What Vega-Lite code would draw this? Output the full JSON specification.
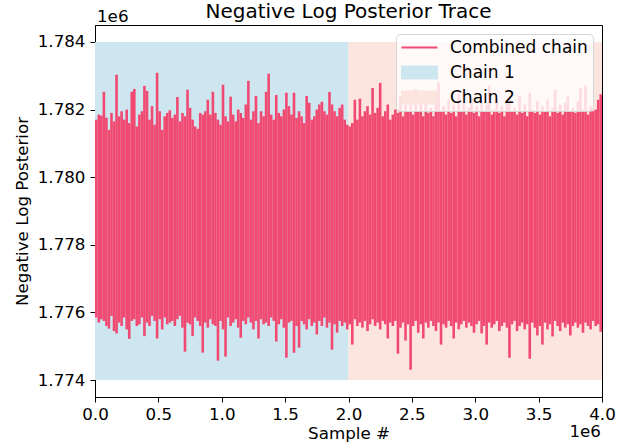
{
  "$schema": "https://vega.github.io/schema/vega-lite/v6.json",
  "width": 507,
  "height": 372,
  "autosize": {"type": "none"},
  "padding": {"left": 95, "top": 25, "right": 31, "bottom": 48},
  "title": {"text": "Negative Log Posterior Trace", "fontSize": 20, "fontWeight": "normal", "font": "DejaVu Sans", "color": "black", "baseline": "alphabetic", "offset": -29, "anchor": "middle", "frame": "group"},
  "config": {
    "font": "DejaVu Sans",
    "view": {"stroke": "black", "strokeWidth": 1},
    "axis": {"labelFont": "DejaVu Sans", "labelFontSize": 16.7, "labelColor": "black", "titleFont": "DejaVu Sans", "titleFontSize": 16.7, "titleFontWeight": "normal", "titleColor": "black", "tickColor": "black", "domainColor": "black", "tickSize": 5, "grid": false, "labelPadding": 4},
    "legend": {"title": null, "orient": "top-right", "offset": 9, "padding": 5, "fillColor": "rgba(255,255,255,0.8)", "strokeColor": "#d5d5d5", "cornerRadius": 4, "labelFont": "DejaVu Sans", "labelFontSize": 17, "labelColor": "black", "symbolSize": 324, "symbolOffset": 10, "rowPadding": 7, "labelOffset": 22}
  },
  "datasets": {
    "regions": [
      {"series": "Chain 1", "x0": 0, "x1": 2000000, "y0": 1774000, "y1": 1784000},
      {"series": "Chain 2", "x0": 2000000, "x1": 4000000, "y0": 1774000, "y1": 1784000}
    ],
    "trace": [
      {"s":10000,"lo":1775850,"hi":1781700},{"s":30000,"lo":1775700,"hi":1781850},{"s":50000,"lo":1775800,"hi":1781820},{"s":70000,"lo":1775750,"hi":1782525},{"s":90000,"lo":1775600,"hi":1781760},
      {"s":110000,"lo":1775520,"hi":1781400},{"s":130000,"lo":1775900,"hi":1781900},{"s":150000,"lo":1775450,"hi":1781650},{"s":170000,"lo":1775380,"hi":1783030},{"s":190000,"lo":1775700,"hi":1781800},
      {"s":210000,"lo":1775600,"hi":1781950},{"s":230000,"lo":1775850,"hi":1781700},{"s":250000,"lo":1775500,"hi":1782000},{"s":270000,"lo":1775220,"hi":1781600},{"s":290000,"lo":1775750,"hi":1782525},
      {"s":310000,"lo":1775800,"hi":1782610},{"s":330000,"lo":1775600,"hi":1781500},{"s":350000,"lo":1775650,"hi":1781850},{"s":370000,"lo":1775850,"hi":1781950},{"s":390000,"lo":1775300,"hi":1782700},
      {"s":410000,"lo":1775700,"hi":1782550},{"s":430000,"lo":1775600,"hi":1781700},{"s":450000,"lo":1775900,"hi":1782100},{"s":470000,"lo":1775750,"hi":1781550},{"s":490000,"lo":1775230,"hi":1783089},
      {"s":510000,"lo":1775800,"hi":1781950},{"s":530000,"lo":1775500,"hi":1781400},{"s":550000,"lo":1775850,"hi":1781800},{"s":570000,"lo":1775650,"hi":1781900},{"s":590000,"lo":1775700,"hi":1781980},
      {"s":610000,"lo":1775750,"hi":1781750},{"s":630000,"lo":1775600,"hi":1781850},{"s":650000,"lo":1775800,"hi":1782370},{"s":670000,"lo":1775900,"hi":1781650},{"s":690000,"lo":1775550,"hi":1781900},
      {"s":710000,"lo":1774841,"hi":1781800},{"s":730000,"lo":1775700,"hi":1782585},{"s":750000,"lo":1775650,"hi":1782050},{"s":770000,"lo":1775300,"hi":1781700},{"s":790000,"lo":1775850,"hi":1781500},
      {"s":810000,"lo":1775750,"hi":1781430},{"s":830000,"lo":1775600,"hi":1781900},{"s":850000,"lo":1774811,"hi":1781850},{"s":870000,"lo":1775700,"hi":1781950},{"s":890000,"lo":1775550,"hi":1782290},
      {"s":910000,"lo":1775800,"hi":1781850},{"s":930000,"lo":1775650,"hi":1782525},{"s":950000,"lo":1775600,"hi":1781900},{"s":970000,"lo":1774574,"hi":1781700},{"s":990000,"lo":1775750,"hi":1781550},
      {"s":1010000,"lo":1775500,"hi":1782733},{"s":1030000,"lo":1774693,"hi":1781800},{"s":1050000,"lo":1775850,"hi":1781650},{"s":1070000,"lo":1775600,"hi":1782380},{"s":1090000,"lo":1775700,"hi":1781850},
      {"s":1110000,"lo":1775800,"hi":1781650},{"s":1130000,"lo":1775550,"hi":1782000},{"s":1150000,"lo":1775250,"hi":1781900},{"s":1170000,"lo":1775750,"hi":1781750},{"s":1190000,"lo":1775650,"hi":1782150},
      {"s":1210000,"lo":1775850,"hi":1782850},{"s":1230000,"lo":1775700,"hi":1781700},{"s":1250000,"lo":1775500,"hi":1781950},{"s":1270000,"lo":1775750,"hi":1782400},{"s":1290000,"lo":1775230,"hi":1781600},
      {"s":1310000,"lo":1775800,"hi":1781950},{"s":1330000,"lo":1775650,"hi":1781800},{"s":1350000,"lo":1775700,"hi":1782525},{"s":1370000,"lo":1775600,"hi":1783060},{"s":1390000,"lo":1775850,"hi":1781850},
      {"s":1410000,"lo":1775750,"hi":1781700},{"s":1430000,"lo":1775140,"hi":1782430},{"s":1450000,"lo":1775650,"hi":1781900},{"s":1470000,"lo":1775800,"hi":1781800},{"s":1490000,"lo":1775550,"hi":1782000},
      {"s":1510000,"lo":1774663,"hi":1782500},{"s":1530000,"lo":1775700,"hi":1782100},{"s":1550000,"lo":1775750,"hi":1781850},{"s":1570000,"lo":1774811,"hi":1782500},{"s":1590000,"lo":1775600,"hi":1781750},
      {"s":1610000,"lo":1774960,"hi":1781950},{"s":1630000,"lo":1775750,"hi":1781800},{"s":1650000,"lo":1775650,"hi":1781600},{"s":1670000,"lo":1775500,"hi":1782400},{"s":1690000,"lo":1775800,"hi":1782200},
      {"s":1710000,"lo":1775600,"hi":1781700},{"s":1730000,"lo":1775700,"hi":1781800},{"s":1750000,"lo":1775350,"hi":1782000},{"s":1770000,"lo":1775750,"hi":1782150},{"s":1790000,"lo":1775600,"hi":1782230},
      {"s":1810000,"lo":1775850,"hi":1781950},{"s":1830000,"lo":1775550,"hi":1781850},{"s":1850000,"lo":1775700,"hi":1782520},{"s":1870000,"lo":1774900,"hi":1782150},{"s":1890000,"lo":1775650,"hi":1781950},
      {"s":1910000,"lo":1775400,"hi":1781800},{"s":1930000,"lo":1775750,"hi":1782050},{"s":1950000,"lo":1775600,"hi":1782150},{"s":1970000,"lo":1775700,"hi":1781700},{"s":1990000,"lo":1775500,"hi":1781550},
      {"s":2010000,"lo":1775650,"hi":1781500},{"s":2030000,"lo":1775050,"hi":1781600},{"s":2050000,"lo":1775800,"hi":1782290},{"s":2070000,"lo":1775600,"hi":1781700},{"s":2090000,"lo":1775700,"hi":1782320},
      {"s":2110000,"lo":1775550,"hi":1781800},{"s":2130000,"lo":1775750,"hi":1781950},{"s":2150000,"lo":1775450,"hi":1782100},{"s":2170000,"lo":1775650,"hi":1781850},{"s":2190000,"lo":1775800,"hi":1782640},
      {"s":2210000,"lo":1775600,"hi":1781900},{"s":2230000,"lo":1775700,"hi":1782050},{"s":2250000,"lo":1775500,"hi":1782790},{"s":2270000,"lo":1775750,"hi":1781800},{"s":2290000,"lo":1775650,"hi":1781950},
      {"s":2310000,"lo":1775230,"hi":1782150},{"s":2330000,"lo":1775700,"hi":1781700},{"s":2350000,"lo":1775600,"hi":1781850},{"s":2370000,"lo":1775750,"hi":1782000},{"s":2390000,"lo":1774780,"hi":1781900},
      {"s":2410000,"lo":1775550,"hi":1782400},{"s":2430000,"lo":1775700,"hi":1781800},{"s":2450000,"lo":1775170,"hi":1782150},{"s":2470000,"lo":1775650,"hi":1781950},{"s":2490000,"lo":1774307,"hi":1782300},
      {"s":2510000,"lo":1775600,"hi":1781850},{"s":2530000,"lo":1775750,"hi":1782600},{"s":2550000,"lo":1775400,"hi":1781950},{"s":2570000,"lo":1775650,"hi":1782200},{"s":2590000,"lo":1775230,"hi":1781800},
      {"s":2610000,"lo":1775700,"hi":1782350},{"s":2630000,"lo":1775550,"hi":1781900},{"s":2650000,"lo":1775750,"hi":1782050},{"s":2670000,"lo":1775600,"hi":1781800},{"s":2690000,"lo":1775450,"hi":1782250},
      {"s":2710000,"lo":1775700,"hi":1782800},{"s":2730000,"lo":1775050,"hi":1781950},{"s":2750000,"lo":1775650,"hi":1782100},{"s":2770000,"lo":1775550,"hi":1781850},{"s":2790000,"lo":1775750,"hi":1782300},
      {"s":2810000,"lo":1775600,"hi":1781900},{"s":2830000,"lo":1775230,"hi":1782150},{"s":2850000,"lo":1775700,"hi":1781800},{"s":2870000,"lo":1775500,"hi":1782450},{"s":2890000,"lo":1775650,"hi":1781950},
      {"s":2910000,"lo":1775750,"hi":1782200},{"s":2930000,"lo":1775550,"hi":1781850},{"s":2950000,"lo":1775700,"hi":1782050},{"s":2970000,"lo":1775600,"hi":1782350},{"s":2990000,"lo":1775400,"hi":1781900},
      {"s":3010000,"lo":1775650,"hi":1782100},{"s":3030000,"lo":1775750,"hi":1781800},{"s":3050000,"lo":1775380,"hi":1782250},{"s":3070000,"lo":1775600,"hi":1781950},{"s":3090000,"lo":1775050,"hi":1782150},
      {"s":3110000,"lo":1775700,"hi":1782700},{"s":3130000,"lo":1775550,"hi":1781850},{"s":3150000,"lo":1775650,"hi":1782000},{"s":3170000,"lo":1775750,"hi":1782300},{"s":3190000,"lo":1775450,"hi":1781900},
      {"s":3210000,"lo":1775600,"hi":1782100},{"s":3230000,"lo":1775700,"hi":1781800},{"s":3250000,"lo":1775550,"hi":1782200},{"s":3270000,"lo":1774663,"hi":1782350},{"s":3290000,"lo":1775650,"hi":1781950},
      {"s":3310000,"lo":1775750,"hi":1782050},{"s":3330000,"lo":1775450,"hi":1781850},{"s":3350000,"lo":1775600,"hi":1782400},{"s":3370000,"lo":1775700,"hi":1781900},{"s":3390000,"lo":1775500,"hi":1782150},
      {"s":3410000,"lo":1775650,"hi":1781800},{"s":3430000,"lo":1774630,"hi":1782500},{"s":3450000,"lo":1775700,"hi":1782000},{"s":3470000,"lo":1775550,"hi":1781900},{"s":3490000,"lo":1775320,"hi":1782250},
      {"s":3510000,"lo":1775600,"hi":1781850},{"s":3530000,"lo":1775050,"hi":1782100},{"s":3550000,"lo":1775700,"hi":1781950},{"s":3570000,"lo":1775500,"hi":1782300},{"s":3590000,"lo":1775650,"hi":1781800},
      {"s":3610000,"lo":1775290,"hi":1782050},{"s":3630000,"lo":1775750,"hi":1782585},{"s":3650000,"lo":1775600,"hi":1781900},{"s":3670000,"lo":1775450,"hi":1782150},{"s":3690000,"lo":1775700,"hi":1781850},
      {"s":3710000,"lo":1775550,"hi":1782200},{"s":3730000,"lo":1775650,"hi":1782400},{"s":3750000,"lo":1775320,"hi":1781950},{"s":3770000,"lo":1775600,"hi":1782050},{"s":3790000,"lo":1775700,"hi":1781900},
      {"s":3810000,"lo":1775550,"hi":1782250},{"s":3830000,"lo":1775650,"hi":1782640},{"s":3850000,"lo":1775400,"hi":1782000},{"s":3870000,"lo":1775700,"hi":1782700},{"s":3890000,"lo":1775600,"hi":1781850},
      {"s":3910000,"lo":1775500,"hi":1782100},{"s":3930000,"lo":1775750,"hi":1781950},{"s":3950000,"lo":1775600,"hi":1782000},{"s":3970000,"lo":1775650,"hi":1782290},{"s":3990000,"lo":1775430,"hi":1782450}
    ]
  },
  "layer": [
    {
      "data": {"name": "regions"},
      "mark": {"type": "rect"},
      "encoding": {
        "x": {"field": "x0", "type": "quantitative", "scale": {"domain": [0, 4000000], "nice": false, "zero": false},
              "axis": {"title": "Sample #", "values": [0, 500000, 1000000, 1500000, 2000000, 2500000, 3000000, 3500000, 4000000], "labelExpr": "format(datum.value / 1000000, '.1f')", "titlePadding": 3, "labelFlush": false}},
        "x2": {"field": "x1"},
        "y": {"field": "y0", "type": "quantitative", "scale": {"domain": [1773500, 1784500], "nice": false, "zero": false},
              "axis": {"title": "Negative Log Posterior", "values": [1774000, 1776000, 1778000, 1780000, 1782000, 1784000], "labelExpr": "format(datum.value / 1000000, '.3f')", "titlePadding": 6, "labelPadding": 5}},
        "y2": {"field": "y1"},
        "color": {"field": "series", "type": "nominal",
                  "scale": {"domain": ["Combined chain", "Chain 1", "Chain 2"], "range": ["#F04A72", "#CEE6EF", "#FCE5DE"]},
                  "legend": {
                    "title": null,
                    "encode": {
                      "symbols": {
                        "update": {
                          "shape": {"signal": "datum.value === 'Combined chain' ? 'M-2,0H2' : 'M-2,-0.72H2V0.72H-2Z'"},
                          "fill": {"signal": "datum.value === 'Combined chain' ? 'transparent' : (datum.value === 'Chain 1' ? '#CEE6EF' : '#FCE5DE')"},
                          "stroke": {"signal": "datum.value === 'Combined chain' ? '#F04A72' : (datum.value === 'Chain 1' ? '#B7DAE6' : '#F7D5CB')"},
                          "strokeWidth": {"signal": "datum.value === 'Combined chain' ? 2 : 1"},
                          "opacity": {"value": 1}
                        }
                      }
                    }
                  }}
      }
    },
    {
      "data": {"name": "trace"},
      "mark": {"type": "rule", "strokeWidth": 2.6, "strokeCap": "butt"},
      "encoding": {
        "x": {"field": "s", "type": "quantitative"},
        "y": {"field": "lo", "type": "quantitative"},
        "y2": {"field": "hi"},
        "color": {"datum": "Combined chain"}
      }
    },
    {
      "data": {"values": [{}]},
      "mark": {"type": "text", "align": "left", "baseline": "alphabetic", "dx": 2, "dy": -3, "fontSize": 16.7, "font": "DejaVu Sans", "color": "black"},
      "encoding": {
        "x": {"datum": 0, "type": "quantitative"},
        "y": {"datum": 1784500, "type": "quantitative"},
        "text": {"value": "1e6"}
      }
    },
    {
      "data": {"values": [{}]},
      "mark": {"type": "text", "align": "right", "baseline": "alphabetic", "dx": -1, "dy": 40, "fontSize": 16.7, "font": "DejaVu Sans", "color": "black"},
      "encoding": {
        "x": {"datum": 4000000, "type": "quantitative"},
        "y": {"datum": 1773500, "type": "quantitative"},
        "text": {"value": "1e6"}
      }
    }
  ]
}
